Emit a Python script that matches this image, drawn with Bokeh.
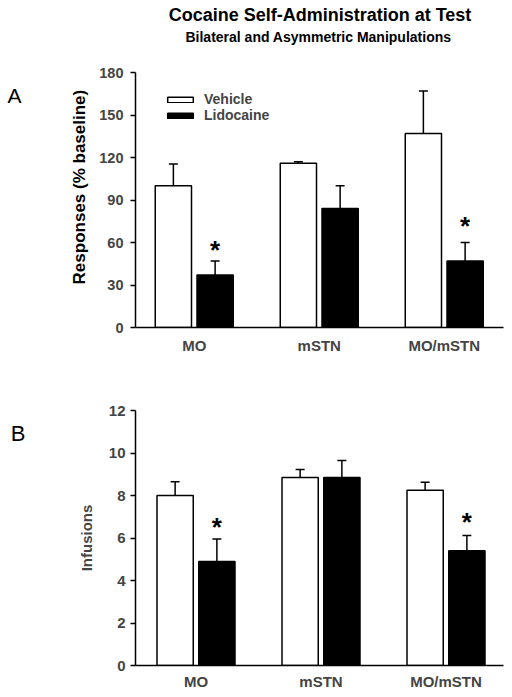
import math
import numpy as np
from bokeh.plotting import figure
from bokeh.models import (Range1d, FixedTicker, Whisker, TeeHead, ColumnDataSource,
                          Legend, LegendItem)
from bokeh.layouts import column, row
from bokeh.embed import file_html
from bokeh.resources import INLINE
from bokeh.core.properties import value

# ---------------- data ----------------
groups = ["MO", "mSTN", "MO/mSTN"]

resp_vehicle = [100.0, 116.0, 137.0]
resp_vehicle_sem = [15.5, 1.0, 30.0]
resp_lido = [37.0, 84.0, 47.0]
resp_lido_sem = [10.0, 16.0, 13.0]
resp_star = [55.0, None, 71.5]   # significance marks (Lidocaine)

inf_vehicle = [8.0, 8.85, 8.25]
inf_vehicle_sem = [0.65, 0.37, 0.37]
inf_lido = [4.9, 8.85, 5.4]
inf_lido_sem = [1.05, 0.8, 0.72]
inf_star = [6.52, None, 6.75]

resp_ticks = [0, 30, 60, 90, 120, 150, 180]
inf_ticks = [0, 2, 4, 6, 8, 10, 12]

title_text = "Cocaine Self-Administration at Test"
subtitle_text = "Bilateral and Asymmetric Manipulations"
resp_label = "Responses (% baseline)"
inf_label = "Infusions"

FONT = "Liberation Sans"
OFFSET = 0.167
BAR_W = 0.29


def decor(width, height, top=0, bottom=0):
    """Blank figure; coordinates are canvas pixels, y measured downwards.
    top/bottom match the neighbouring panel so the aligned frames agree."""
    d = figure(width=width, height=height, x_range=Range1d(0, width),
               y_range=Range1d(height - bottom, top), output_backend="svg",
               toolbar_location=None, min_border=0,
               min_border_top=top, min_border_bottom=bottom,
               x_axis_location=None, y_axis_location=None)
    d.outline_line_color = None
    d.xgrid.grid_line_color = None
    d.ygrid.grid_line_color = None
    return d


def make_panel(width, height, x_range, y_max, ticks, veh, veh_sem, lid, lid_sem, star,
               left, top, bottom, tick_label_size, tick_standoff, x_standoff,
               legend_loc=None):
    p = figure(width=width, height=height, x_range=x_range, y_range=Range1d(0, y_max),
               output_backend="svg", toolbar_location=None,
               min_border_left=left, min_border_right=9,
               min_border_top=top, min_border_bottom=bottom)
    p.outline_line_color = None
    p.xgrid.grid_line_color = None
    p.ygrid.grid_line_color = None

    idx = np.arange(len(groups))
    xv = idx - OFFSET
    xl = idx + OFFSET

    rv = p.vbar(x=xv, top=veh, width=BAR_W, fill_color="white",
                line_color="black", line_width=1.5)
    rl = p.vbar(x=xl, top=lid, width=BAR_W, fill_color="black",
                line_color="black", line_width=1.5)

    for xs, vals, sems in ((xv, veh, veh_sem), (xl, lid, lid_sem)):
        src = ColumnDataSource(dict(base=list(xs), lower=list(vals),
                                    upper=[v + s for v, s in zip(vals, sems)]))
        w = Whisker(source=src, base="base", lower="lower", upper="upper",
                    lower_head=None,
                    upper_head=TeeHead(size=9, line_width=1.5, line_color="black"),
                    line_width=1.5, line_color="black", level="glyph")
        p.add_layout(w)

    sx = [x for x, s in zip(xl, star) if s is not None]
    sy = [s for s in star if s is not None]
    p.text(x=sx, y=sy, text=["*"] * len(sx), text_font=value(FONT),
           text_font_style="bold", text_font_size="26px",
           text_align="center", text_baseline="middle", text_color="black")

    xa = p.xaxis[0]
    xa.ticker = FixedTicker(ticks=list(range(len(groups))))
    xa.major_label_overrides = {i: g for i, g in enumerate(groups)}
    xa.major_tick_out = 0
    xa.major_tick_in = 0
    xa.major_tick_line_color = None
    xa.minor_tick_line_color = None
    xa.axis_line_width = 1.5
    xa.major_label_text_font = FONT
    xa.major_label_text_font_style = "bold"
    xa.major_label_text_font_size = "15px"
    xa.major_label_standoff = x_standoff

    ya = p.yaxis[0]
    ya.ticker = FixedTicker(ticks=ticks)
    ya.major_tick_out = 5
    ya.major_tick_in = 0
    ya.minor_tick_line_color = None
    ya.axis_line_width = 1.5
    ya.major_tick_line_width = 1.5
    ya.major_label_text_font = FONT
    ya.major_label_text_font_style = "bold"
    ya.major_label_text_font_size = tick_label_size
    ya.major_label_standoff = tick_standoff

    if legend_loc is not None:
        lg = Legend(items=[LegendItem(label="Vehicle", renderers=[rv]),
                           LegendItem(label="Lidocaine", renderers=[rl])],
                    location=legend_loc, glyph_width=32, glyph_height=7,
                    label_standoff=8, spacing=-2, padding=0, margin=0,
                    label_height=13,
                    border_line_color=None, background_fill_alpha=0,
                    label_text_font=FONT, label_text_font_style="bold",
                    label_text_font_size="14px")
        p.add_layout(lg)
    return p


# ---------------- title strip ----------------
T = decor(512, 58)
T.text(x=[319.5], y=[14], text=[title_text], text_font=value(FONT),
       text_font_style="bold", text_font_size="18px",
       text_align="center", text_baseline="middle")
T.text(x=[318], y=[36.7], text=[subtitle_text], text_font=value(FONT),
       text_font_style="bold", text_font_size="14px",
       text_align="center", text_baseline="middle")

# ---------------- panel A ----------------
LA = decor(90, 298, top=14, bottom=27)
LA.text(x=[14], y=[37.5], text=["A"], text_font=value(FONT), text_font_size="21px",
        text_align="center", text_baseline="middle")
LA.text(x=[79], y=[129.5], text=[resp_label], angle=math.pi / 2,
        text_font=value(FONT), text_font_style="bold", text_font_size="17px",
        text_align="center", text_baseline="middle")

pA = make_panel(422, 298, Range1d(-0.47, 2.474), 180, resp_ticks,
                resp_vehicle, resp_vehicle_sem, resp_lido, resp_lido_sem, resp_star,
                left=45, top=14, bottom=27, tick_label_size="14.5px", tick_standoff=7,
                x_standoff=9, legend_loc=(29, 204))

# ---------------- panel B ----------------
LB = decor(70, 339, top=54, bottom=30)
LB.text(x=[17.5], y=[77], text=["B"], text_font=value(FONT), text_font_size="22px",
        text_align="center", text_baseline="middle")

pB = make_panel(442, 339, Range1d(-0.484, 2.46), 12, inf_ticks,
                inf_vehicle, inf_vehicle_sem, inf_lido, inf_lido_sem, inf_star,
                left=65, top=54, bottom=30, tick_label_size="15px", tick_standoff=5,
                x_standoff=7)
yb = pB.yaxis[0]
yb.axis_label = inf_label
yb.axis_label_text_font = FONT
yb.axis_label_text_font_style = "bold"
yb.axis_label_text_font_size = "15px"
yb.axis_label_standoff = 11

layout = column(T, row(LA, pA, spacing=0), row(LB, pB, spacing=0), spacing=0)
open("out.html", "w").write(file_html(layout, INLINE))
